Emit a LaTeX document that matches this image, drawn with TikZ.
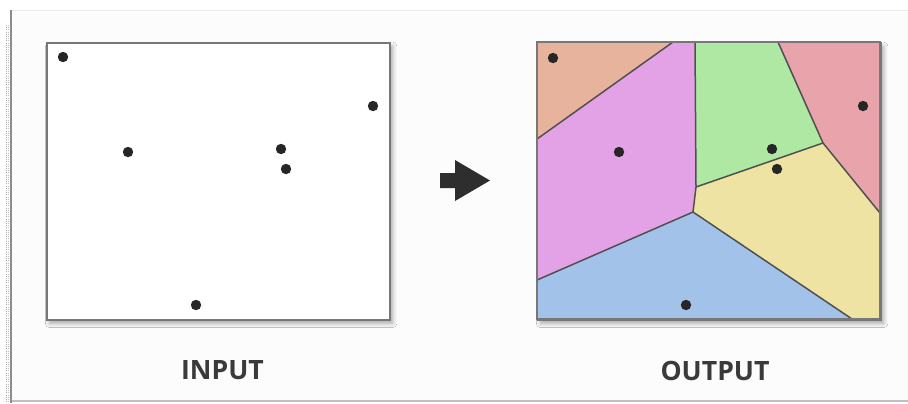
\documentclass[tikz,border=0pt]{standalone}
\usepackage{fontspec}
\setmainfont{Open Sans}
\usetikzlibrary{shadows.blur}
\definecolor{cOrange}{HTML}{E8B39C}
\definecolor{cPink}{HTML}{E4A2E6}
\definecolor{cGreen}{HTML}{AEE8A2}
\definecolor{cRed}{HTML}{E9A3AA}
\definecolor{cYellow}{HTML}{EEE3A2}
\definecolor{cBlue}{HTML}{A2C2EA}
\definecolor{cText}{HTML}{3A3A3A}
\definecolor{cEdge}{HTML}{505050}
\definecolor{cBox}{HTML}{777777}
\tikzset{
  dot/.style={circle,fill=black!85,inner sep=0pt,minimum size=5.2pt},
  lbl/.style={font=\fontsize{13.3}{15}\selectfont\bfseries,text=cText},
  cellline/.style={draw=cEdge,line width=0.75pt,line join=round},
  panel/.style={draw=cBox,line width=1.2pt,blur shadow={shadow xshift=1.2pt,shadow yshift=-1.6pt,shadow blur steps=6,shadow opacity=35}},
}
\begin{document}
\begin{tikzpicture}[x=0.5pt,y=-0.5pt]
\useasboundingbox (0,0) rectangle (908,403);
\fill[white] (0,0) rectangle (908,403);
% frame
\fill[black!1] (11,10) rectangle (908,401);
\draw[black!7,line width=0.4pt] (11,10) -- (908,10);
\draw[black!25,line width=0.8pt] (11,401) -- (908,401);
\draw[black!45,line width=0.9pt] (11,10) -- (11,403);
\draw[black!35,line width=0.5pt,dash pattern=on 0.5pt off 0.6pt] (6,25) -- (6,403);
\draw[black!25,line width=0.5pt,dash pattern=on 0.5pt off 0.6pt] (8,25) -- (8,403);

% input panel
\node[panel,fill=white,minimum width=171.5pt,minimum height=138.5pt,inner sep=0pt,anchor=north west] (inbox) at (46,42) {};
\node[dot] (i1) at (63,57) {};
\node[dot] (i2) at (128,152) {};
\node[dot] (i3) at (281,149) {};
\node[dot] (i4) at (286,169) {};
\node[dot] (i5) at (373,106) {};
\node[dot] (i6) at (196,305) {};

% output panel
\node[panel,fill=white,minimum width=171.5pt,minimum height=138.5pt,inner sep=0pt,anchor=north west] (outbox) at (537,42) {};
\coordinate (A) at (537,139);
\coordinate (B) at (673,42);
\coordinate (C) at (695,42);
\coordinate (D) at (696,187);
\coordinate (E) at (778,42);
\coordinate (F) at (823,143);
\coordinate (G) at (880,213);
\coordinate (H) at (693,212);
\coordinate (I) at (537,280);
\coordinate (J) at (852,319);
\fill[cOrange] (537,42) -- (B) -- (A) -- cycle;
\fill[cPink] (A) -- (B) -- (C) -- (D) -- (H) -- (I) -- cycle;
\fill[cGreen] (C) -- (E) -- (F) -- (D) -- cycle;
\fill[cRed] (E) -- (880,42) -- (G) -- (F) -- cycle;
\fill[cYellow] (D) -- (F) -- (G) -- (880,319) -- (J) -- (H) -- cycle;
\fill[cBlue] (I) -- (H) -- (J) -- (537,319) -- cycle;
\draw[cellline] (A) -- (B);
\draw[cellline] (C) -- (D) -- (H);
\draw[cellline] (D) -- (F);
\draw[cellline] (E) -- (F) -- (G);
\draw[cellline] (I) -- (H) -- (J);
\draw[draw=cBox,line width=1.2pt] (537,42) rectangle (880,319);
\node[dot] (o1) at (553,58) {};
\node[dot] (o2) at (619,152) {};
\node[dot] (o3) at (772,149) {};
\node[dot] (o4) at (777,169) {};
\node[dot] (o5) at (863,106) {};
\node[dot] (o6) at (686,305) {};

% arrow
\fill[black!82] (440,173) -- (455,173) -- (455,160) -- (490,180.5) -- (455,201) -- (455,188) -- (440,188) -- cycle;

% labels
\node[lbl] (tin) at (222.5,370.5) {INPUT};
\node[lbl] (tout) at (715,370.5) {OUTPUT};
\end{tikzpicture}
\end{document}
